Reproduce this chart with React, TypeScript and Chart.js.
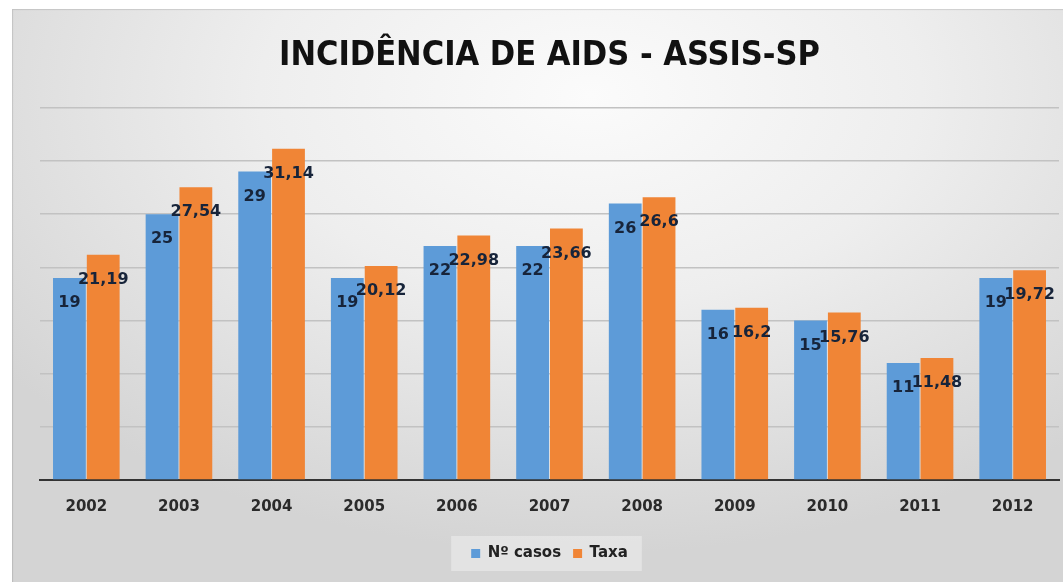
import React, { useEffect, useRef } from "react";
import { Chart, registerables } from "chart.js";

Chart.register(...registerables);

const years = ["2002", "2003", "2004", "2005", "2006", "2007", "2008", "2009", "2010", "2011", "2012"];
const casos = [19, 25, 29, 19, 22, 22, 26, 16, 15, 11, 19];
const taxa = [21.19, 27.54, 31.14, 20.12, 22.98, 23.66, 26.6, 16.2, 15.76, 11.48, 19.72];
const seriesNames = ["Nº casos", "Taxa"];
const titleText = "INCIDÊNCIA DE AIDS - ASSIS-SP";

const labelPlugin = {
  id: "valueLabels",
  afterDatasetsDraw(chart: any) {
    const ctx = chart.ctx;
    ctx.save();
    ctx.font = "bold 16px 'DejaVu Sans'";
    ctx.fillStyle = "#17243a";
    ctx.textAlign = "center";
    ctx.textBaseline = "middle";
    chart.data.datasets.forEach((ds: any, di: number) => {
      const meta = chart.getDatasetMeta(di);
      meta.data.forEach((el: any, i: number) => {
        const v = ds.data[i];
        const txt = String(v).replace(".", ",");
        ctx.fillText(txt, el.x, el.y + 25);
      });
    });
    ctx.restore();
  },
};

const legendBgPlugin = {
  id: "legendBg",
  beforeDraw(chart: any) {
    const lg = chart.legend;
    if (!lg) return;
    const ctx = chart.ctx;
    const items = lg.legendHitBoxes || [];
    if (!items.length) return;
    const x0 = items[0].left - 20;
    const last = items[items.length - 1];
    const x1 = last.left + last.width + 14;
    const y0 = items[0].top - 10;
    const y1 = items[0].top + items[0].height + 10;
    ctx.save();
    ctx.fillStyle = "rgba(255,255,255,0.35)";
    ctx.fillRect(x0, y0, x1 - x0, y1 - y0);
    ctx.restore();
  },
};

export default function App() {
  const ref = useRef<HTMLCanvasElement>(null);
  useEffect(() => {
    if (!ref.current) return;
    const chart = new Chart(ref.current, {
      type: "bar",
      data: {
        labels: years,
        datasets: [
          {
            label: seriesNames[0],
            data: casos,
            backgroundColor: "#5d9bd8",
            barPercentage: 0.97,
            categoryPercentage: 0.73,
          },
          {
            label: seriesNames[1],
            data: taxa,
            backgroundColor: "#f08536",
            barPercentage: 0.97,
            categoryPercentage: 0.73,
          },
        ],
      },
      options: {
        animation: false,
        responsive: false,
        maintainAspectRatio: false,
        layout: { padding: { left: 40, right: 4, top: 10, bottom: 11 } },
        plugins: {
          title: {
            display: true,
            text: titleText,
            color: "#111111",
            font: { family: "'Liberation Sans Narrow', 'DejaVu Sans Condensed', sans-serif", size: 34, weight: "bold" },
            padding: { top: 26, bottom: 31 },
          },
          legend: {
            position: "bottom",
            labels: {
              boxWidth: 9,
              boxHeight: 9,
              color: "#222222",
              font: { family: "'DejaVu Sans'", size: 15, weight: "bold" },
              padding: 12,
            },
          },
          tooltip: { enabled: false },
        },
        scales: {
          x: {
            grid: { display: false, drawTicks: false },
            border: { display: true, color: "#333333", width: 2 },
            ticks: {
              color: "#2a2a2a",
              font: { family: "'DejaVu Sans'", size: 15, weight: "bold" },
              padding: 18,
            },
          },
          y: {
            min: 0,
            max: 35,
            ticks: { display: false, stepSize: 5 },
            grid: { color: "#c2c2c2", lineWidth: 1.5, drawTicks: false },
            border: { display: false },
          },
        },
      },
      plugins: [labelPlugin, legendBgPlugin],
    });
    return () => chart.destroy();
  }, []);

  return (
    <div style={{ position: "absolute", left: 0, top: 0, width: 1063, height: 582, background: "#ffffff" }}>
      <div
        style={{
          position: "absolute",
          left: 12,
          top: 9,
          width: 1051,
          height: 573,
          background: "radial-gradient(ellipse 70% 80% at 55% 15%, #fbfbfb 0%, #eeeeee 45%, #d4d4d4 100%)",
          boxShadow: "inset 1px 1px 1px rgba(0,0,0,0.12)",
        }}
      />
      <canvas ref={ref} width={1063} height={582} style={{ position: "absolute", left: 0, top: 0 }} />
    </div>
  );
}
